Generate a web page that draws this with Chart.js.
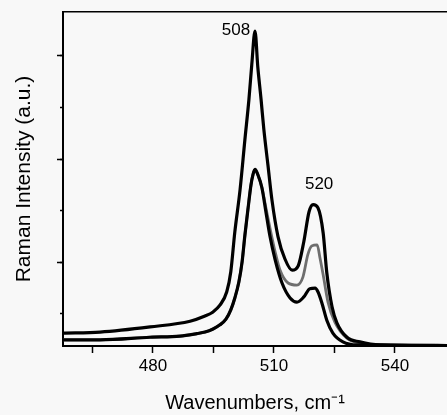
<!DOCTYPE html>
<html>
<head>
<meta charset="utf-8">
<script src="https://cdn.jsdelivr.net/npm/chart.js@4/dist/chart.umd.min.js"></script>
<style>
  html, body { margin: 0; padding: 0; background: #f8f8f8; }
  #wrap { width: 447px; height: 415px; }
</style>
</head>
<body>
<div id="wrap"><canvas id="ramanChart" width="447" height="415"></canvas></div>
<script>
// spectra (wavenumber, intensity in a.u.)
const waveTop = [457.7, 466.9, 479.3, 489.2, 492.9, 494.9, 496.6, 498.3, 499.3, 500.3, 501.6, 502.8, 503.8, 504.5, 505.3,
                 506.0, 506.8, 507.5, 508.5, 509.5, 511.0, 512.7, 514.5, 516.0, 517.4, 518.7, 519.7, 520.9, 522.2,
                 523.1, 524.4, 525.6, 528.1, 531.3, 536.3, 552.9];
const intTop  = [-0.37, -0.35, -0.25, -0.14, -0.04, 0.04, 0.17, 0.43, 0.82, 1.59, 2.41, 3.38, 4.16, 4.83, 5.48,
                 4.78, 4.16, 3.57, 2.89, 2.21, 1.50, 1.07, 0.85, 0.93, 1.40, 1.98, 2.12, 2.06, 1.57,
                 0.80, 0.14, -0.17, -0.45, -0.54, -0.60, -0.61];

const waveMid = [457.7, 466.9, 479.3, 486.7, 490.9, 492.9, 494.9, 496.6, 498.1, 499.3, 500.3, 501.3, 502.1, 502.8, 503.6,
                 504.3, 504.8, 505.3, 506.0, 507.0, 508.0, 509.0, 510.3, 511.5, 513.5, 515.7, 517.2, 518.4, 519.4,
                 520.7, 521.4, 522.2, 523.4, 525.1, 528.1, 531.3, 536.3, 552.9];
const intMid  = [-0.50, -0.50, -0.45, -0.43, -0.38, -0.35, -0.29, -0.21, -0.10, 0.08, 0.31, 0.62, 1.01, 1.53, 2.06,
                 2.50, 2.70, 2.80, 2.70, 2.45, 2.06, 1.67, 1.20, 0.85, 0.60, 0.56, 0.72, 1.15, 1.32,
                 1.34, 1.09, 0.76, 0.23, -0.16, -0.47, -0.56, -0.60, -0.61];

const waveBot = [457.7, 466.9, 479.3, 486.7, 490.9, 492.9, 494.9, 496.6, 498.1, 499.3, 500.3, 501.3, 502.1, 502.8, 503.6,
                 504.3, 504.8, 505.3, 506.0, 507.0, 508.0, 509.0, 510.3, 512.0, 514.0, 515.7, 517.4, 518.9, 520.2,
                 520.9, 521.9, 523.1, 524.6, 527.1, 530.6, 552.9];
const intBot  = [-0.50, -0.50, -0.45, -0.43, -0.38, -0.35, -0.29, -0.21, -0.10, 0.08, 0.31, 0.62, 1.01, 1.53, 2.06,
                 2.50, 2.70, 2.80, 2.70, 2.45, 1.98, 1.51, 1.05, 0.60, 0.31, 0.23, 0.33, 0.49, 0.50,
                 0.43, 0.21, -0.12, -0.37, -0.54, -0.60, -0.61];

const xTicks = [465, 480, 495, 510, 525, 540];
const yTicks = [0, 1, 2, 3, 4, 5];

const peakNames = ['508', '520'];
const peakWave  = [500.6, 521.2];
const peakInt   = [5.50, 2.52];

const FONT = 'Liberation Sans, Arial, sans-serif';

function pairs(xs, ys) {
  var out = [];
  for (var i = 0; i < xs.length; i++) {
    out.push({ x: xs[i], y: ys[i] });
  }
  return out;
}

// writes the two peak positions next to their maxima
const peakText = {
  id: 'peakText',
  afterDatasetsDraw(chart) {
    const c = chart.ctx;
    const xs = chart.scales.x, ys = chart.scales.y;
    c.save();
    c.fillStyle = '#000';
    c.font = '17px ' + FONT;
    c.textAlign = 'center';
    c.textBaseline = 'middle';
    for (var i = 0; i < peakNames.length; i++) {
      c.fillText(peakNames[i], xs.getPixelForValue(peakWave[i]), ys.getPixelForValue(peakInt[i]));
    }
    c.restore();
  }
};

const bg = {
  id: 'bg',
  beforeDraw(chart) {
    const c = chart.ctx;
    c.save();
    c.fillStyle = '#f8f8f8';
    c.fillRect(0, 0, chart.width, chart.height);
    c.restore();
  }
};

new Chart(document.getElementById('ramanChart'), {
  type: 'line',
  data: {
    datasets: [
      { data: pairs(waveBot, intBot), borderColor: '#000', borderWidth: 3.2 },
      { data: pairs(waveTop, intTop), borderColor: '#000', borderWidth: 3.2 },
      { data: pairs(waveMid, intMid), borderColor: '#6e6e6e', borderWidth: 2.8 }
    ]
  },
  options: {
    responsive: false,
    animation: false,
    devicePixelRatio: 1,
    layout: { padding: { top: 12, left: 0, right: 0, bottom: 0 } },
    elements: {
      point: { radius: 0 },
      line: { cubicInterpolationMode: 'monotone', fill: false }
    },
    plugins: { legend: { display: false }, tooltip: { enabled: false } },
    scales: {
      x: {
        type: 'linear',
        min: 457.7,
        max: 552.9,
        afterBuildTicks: function (s) { s.ticks = xTicks.map(v => ({ value: v })); },
        afterFit: function (s) { s.height = 69; },
        grid: { drawOnChartArea: false, tickLength: 7, tickWidth: 1.5, tickColor: '#000' },
        border: { color: '#000', width: 2 },
        ticks: {
          maxRotation: 0,
          padding: 3,
          color: '#000',
          font: { family: FONT, size: 17 },
          callback: v => (v % 30 === 0 ? String(v) : '')
        },
        title: {
          display: true,
          text: 'Wavenumbers, cm\u207B\u00B9',
          color: '#000',
          font: { family: FONT, size: 20 },
          padding: 0
        }
      },
      xTop: {
        type: 'linear',
        position: 'top',
        min: 457.7,
        max: 552.9,
        afterFit: function (s) { s.height = 0; },
        grid: { display: false, drawTicks: false },
        border: { color: '#000', width: 1.5 },
        ticks: { display: false }
      },
      y: {
        type: 'linear',
        min: -0.62,
        max: 5.85,
        weight: 1,
        afterBuildTicks: function (s) { s.ticks = yTicks.map(v => ({ value: v })); },
        afterFit: function (s) { s.width = 63; },
        grid: {
          drawOnChartArea: false,
          tickLength: 6,
          tickWidth: 1.5,
          tickColor: ctx => (ctx.tick && ctx.tick.value % 2 === 1 ? '#000' : 'rgba(0,0,0,0)')
        },
        border: { color: '#000', width: 2 },
        ticks: { display: false },
        title: {
          display: true,
          text: 'Raman Intensity (a.u.)',
          color: '#000',
          font: { family: FONT, size: 21 },
          padding: { top: 12, bottom: 0 }
        }
      },
      yMinor: {
        type: 'linear',
        position: 'left',
        min: -0.62,
        max: 5.85,
        weight: 0,
        afterBuildTicks: function (s) { s.ticks = yTicks.map(v => ({ value: v })); },
        afterFit: function (s) { s.width = 0; },
        grid: { drawOnChartArea: false, tickLength: 3, tickWidth: 1.5, tickColor: '#000' },
        border: { display: false },
        ticks: { display: false }
      }
    }
  },
  plugins: [bg, peakText]
});
</script>
</body>
</html>
